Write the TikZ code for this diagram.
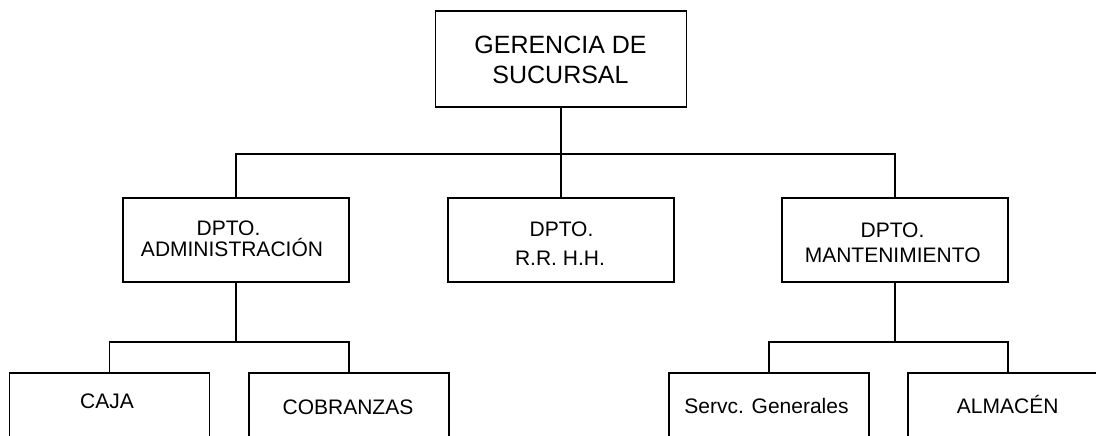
\documentclass[tikz,border=0pt]{standalone}
\usepackage{fontspec}
\setmainfont{Liberation Sans}
\begin{document}
\begin{tikzpicture}[x=1pt,y=-1pt,
  box/.style={draw, line width=1.8pt, inner sep=0pt},
  topbox/.style={box, minimum width=251pt, minimum height=96pt},
  midbox/.style={box, minimum width=226pt, minimum height=84pt},
  lowbox/.style={box, minimum width=200pt, minimum height=107pt},
  lbl/.style={anchor=base, inner sep=0pt, font=\fontsize{21}{21}\selectfont},
  biglbl/.style={lbl, font=\fontsize{25}{25}\selectfont},
  lnk/.style={line width=1.8pt}]
\useasboundingbox (0,0) rectangle (1096,436);
\clip (0,0) rectangle (1096,436);
% boxes
\node[topbox] (g) at (561,59) {};
\node[midbox] (adm) at (236,240.3) {};
\node[midbox] (rr) at (561,240) {};
\node[midbox] (mant) at (895,240) {};
\node[lowbox] (caja) at (109.5,426.5) {};
\node[lowbox] (cob) at (349,426.5) {};
\node[lowbox] (serv) at (769,426.5) {};
\node[lowbox] (alm) at (1008,426.5) {};
% texts
\node[biglbl] (g1) at (560.5,53.3) {GERENCIA DE};
\node[biglbl] (g2) at (560.5,83.3) {SUCURSAL};
\node[lbl] (adm1) at (228.5,235) {DPTO.};
\node[lbl] (adm2) at (232,256.7) {ADMINISTRACIÓN};
\node[lbl] (rr1) at (561.5,236.7) {DPTO.};
\node[lbl] (rr2) at (560,265) {R.R. H.H.};
\node[lbl] (mant1) at (892.5,237.3) {DPTO.};
\node[lbl] (mant2) at (892.7,262.3) {MANTENIMIENTO};
\node[lbl] (caja1) at (107,408.3) {CAJA};
\node[lbl] (cob1) at (348,414.3) {COBRANZAS};
\node[lbl] (serv1) at (766.5,413.3) {Servc. Generales};
\node[lbl] (alm1) at (1007.7,413.3) {ALMACÉN};
% connectors
\coordinate (busA) at (0,154);
\coordinate (busB) at (0,342);
\draw[lnk] (g.south) -- (rr.north);
\draw[lnk] (adm.north) -- (adm.north |- busA) -- (mant.north |- busA) -- (mant.north);
\draw[lnk] (adm.south) -- (adm.south |- busB);
\draw[lnk] (caja.north) -- (caja.north |- busB) -- (cob.north |- busB) -- (cob.north);
\draw[lnk] (mant.south) -- (mant.south |- busB);
\draw[lnk] (serv.north) -- (serv.north |- busB) -- (alm.north |- busB) -- (alm.north);
\end{tikzpicture}
\end{document}
